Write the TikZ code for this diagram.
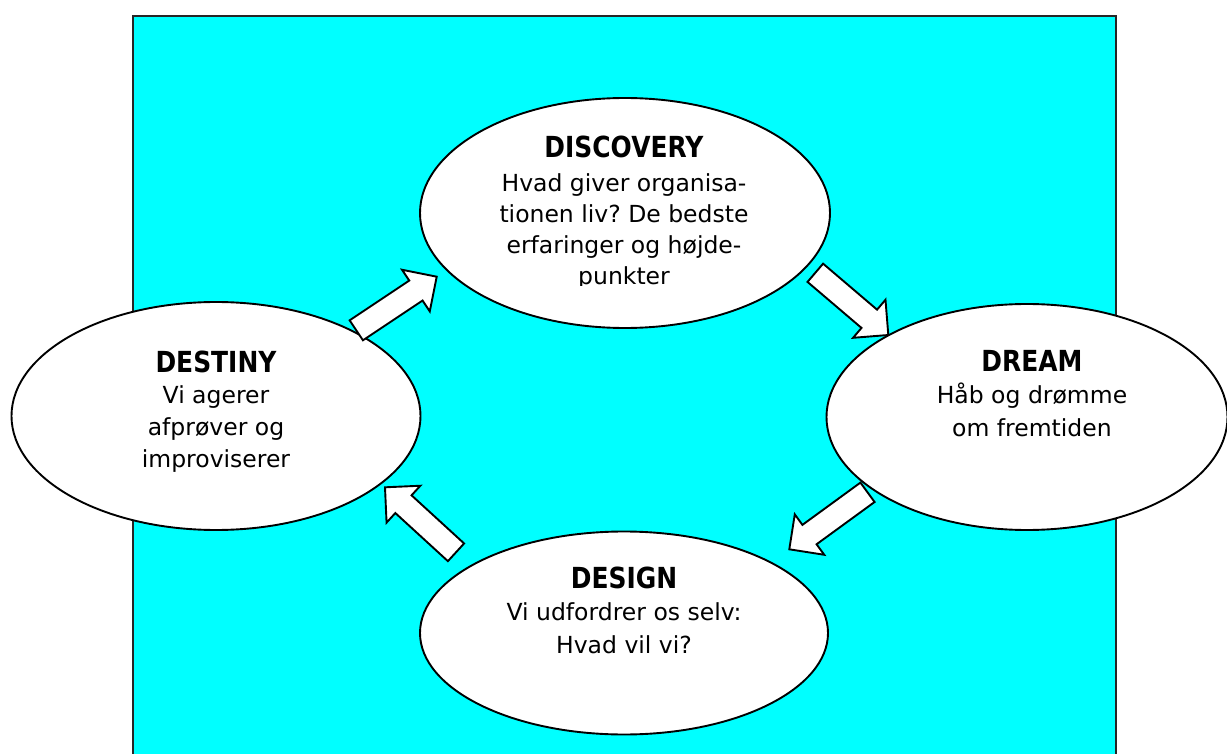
\documentclass[tikz,border=0pt]{standalone}
\usepackage{fontspec}
\setmainfont{DejaVu Sans}
\newfontfamily\titlefont[FakeStretch=0.86]{DejaVu Sans}
\usetikzlibrary{calc,shapes.geometric}
\definecolor{bgcyan}{HTML}{00FFFF}
\frenchspacing
\tikzset{
  ell/.style={ellipse, draw=black, line width=1.9pt, fill=white, inner sep=0pt},
  ttl/.style={anchor=base, inner sep=0pt, font=\titlefont\bfseries\fontsize{29}{34}\selectfont},
  bdy/.style={anchor=base, inner sep=0pt, font=\fontsize{23.5}{32}\selectfont},
  blk/.style={draw=black, line width=1.9pt, fill=white, line join=miter},
}
\newcommand\blockarrow[2]{%
  \draw[blk] ($(#1)!12pt!90:(#2)$)
    -- ($($(#2)!25pt!(#1)$)!12pt!-90:(#1)$)
    -- ($($(#2)!25pt!(#1)$)!25pt!-90:(#1)$)
    -- (#2)
    -- ($($(#2)!25pt!(#1)$)!25pt!90:(#1)$)
    -- ($($(#2)!25pt!(#1)$)!12pt!90:(#1)$)
    -- ($(#1)!12pt!-90:(#2)$) -- cycle;}
\begin{document}
\begin{tikzpicture}[x=1pt,y=-1pt]
\useasboundingbox (0,0) rectangle (1227,754);
\clip (0,0) rectangle (1227,754);
\draw[fill=bgcyan, draw=black!85, line width=2.2pt] (133,16) rectangle (1116,770);
% ellipses
\node[ell, minimum width=410, minimum height=230] (discovery) at (625,213) {};
\node[ell, minimum width=409, minimum height=228] (destiny) at (216,416) {};
\node[ell, minimum width=401, minimum height=226] (dream) at (1027,417) {};
\node[ell, minimum width=408, minimum height=203] (design) at (624,633) {};
% texts
\node[ttl] (t1) at (624,158) {DISCOVERY};
\begin{scope}
\clip (420,160) rectangle (830,286);
\node[bdy] (b1) at (624,192) {\begin{tabular}[t]{@{}c@{}}Hvad giver organisa-\\[-1pt] tionen liv? De bedste\\[-1pt] erfaringer og højde-\\[-1pt] punkter\end{tabular}};
\end{scope}
\node[ttl] (t2) at (216,372) {DESTINY};
\node[bdy] (b2) at (216,403) {\begin{tabular}[t]{@{}c@{}}Vi agerer\\ afprøver og\\ improviserer\end{tabular}};
\node[ttl] (t3) at (1032,371) {DREAM};
\node[bdy] (b3) at (1032,403) {\begin{tabular}[t]{@{}c@{}}Håb og drømme\\[1pt] om fremtiden\end{tabular}};
\node[ttl] (t4) at (624,588) {DESIGN};
\node[bdy] (b4) at (624,620) {\begin{tabular}[t]{@{}c@{}}Vi udfordrer os selv:\\[1pt] Hvad vil vi?\end{tabular}};
% arrows
\coordinate (a1s) at (356.3,330.3);
\coordinate (a1e) at (436.7,276.7);
\coordinate (a2s) at (815.3,272.8);
\coordinate (a2e) at (888.3,335);
\coordinate (a3s) at (867.5,492.3);
\coordinate (a3e) at (789.3,549.3);
\coordinate (a4s) at (456,552.3);
\coordinate (a4e) at (385,487.3);
\blockarrow{a1s}{a1e}
\blockarrow{a2s}{a2e}
\blockarrow{a3s}{a3e}
\blockarrow{a4s}{a4e}
\end{tikzpicture}
\end{document}
